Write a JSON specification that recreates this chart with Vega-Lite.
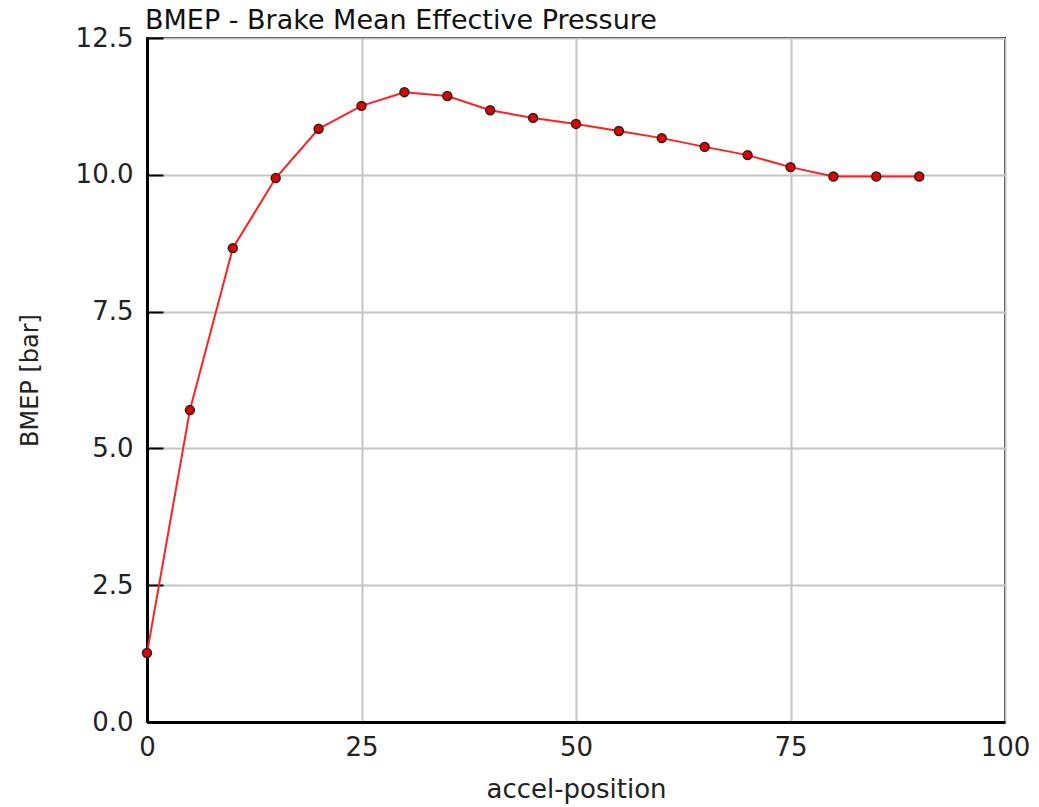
{
  "$schema": "https://vega.github.io/schema/vega-lite/v6.json",
  "width": 858,
  "height": 684,
  "autosize": {"type": "none"},
  "padding": {"left": 147, "top": 38, "right": 34, "bottom": 85},
  "background": "white",
  "config": {
    "font": "DejaVu Sans",
    "view": {"stroke": "black", "strokeWidth": 2}
  },
  "title": {
    "text": "BMEP - Brake Mean Effective Pressure",
    "anchor": "start",
    "frame": "group",
    "font": "DejaVu Sans",
    "fontSize": 27,
    "fontWeight": "normal",
    "color": "#111",
    "offset": -10,
    "dx": -2
  },
  "data": {
    "values": [
      {"accel": 0, "bmep": 1.26},
      {"accel": 5, "bmep": 5.70},
      {"accel": 10, "bmep": 8.66},
      {"accel": 15, "bmep": 9.94},
      {"accel": 20, "bmep": 10.84},
      {"accel": 25, "bmep": 11.26},
      {"accel": 30, "bmep": 11.51},
      {"accel": 35, "bmep": 11.44},
      {"accel": 40, "bmep": 11.18},
      {"accel": 45, "bmep": 11.04},
      {"accel": 50, "bmep": 10.93},
      {"accel": 55, "bmep": 10.80},
      {"accel": 60, "bmep": 10.67},
      {"accel": 65, "bmep": 10.51},
      {"accel": 70, "bmep": 10.36},
      {"accel": 75, "bmep": 10.14},
      {"accel": 80, "bmep": 9.97},
      {"accel": 85, "bmep": 9.97},
      {"accel": 90, "bmep": 9.97}
    ]
  },
  "encoding": {
    "x": {
      "field": "accel",
      "type": "quantitative",
      "scale": {"domain": [0, 100], "nice": false, "zero": false},
      "axis": {
        "title": "accel-position",
        "values": [0, 25, 50, 75, 100],
        "format": "d",
        "labelFlush": false,
        "grid": true,
        "gridColor": "#c4c4c4",
        "gridWidth": 2,
        "ticks": false,
        "domainColor": "black",
        "domainWidth": 3,
        "labelFontSize": 26,
        "labelColor": "#222",
        "labelPadding": 12,
        "titleFontSize": 26,
        "titleFontWeight": "normal",
        "titleColor": "#222",
        "titlePadding": 16
      }
    },
    "y": {
      "field": "bmep",
      "type": "quantitative",
      "scale": {"domain": [0, 12.5], "nice": false},
      "axis": {
        "title": "BMEP [bar]",
        "values": [0, 2.5, 5, 7.5, 10, 12.5],
        "format": ".1f",
        "labelFlush": false,
        "grid": true,
        "gridColor": "#c4c4c4",
        "gridWidth": 2,
        "ticks": true,
        "tickSize": -16,
        "tickColor": "black",
        "tickWidth": 2,
        "domainColor": "black",
        "domainWidth": 3,
        "labelFontSize": 26,
        "labelColor": "#222",
        "labelPadding": 30,
        "titleFontSize": 24,
        "titleFontWeight": "normal",
        "titleColor": "#222",
        "titlePadding": 33
      }
    }
  },
  "layer": [
    {"mark": {"type": "line", "color": "#ff2020", "strokeWidth": 2}},
    {"mark": {"type": "point", "filled": true, "fill": "#e00000", "stroke": "#222", "strokeWidth": 1.5, "size": 80, "opacity": 1}}
  ]
}
